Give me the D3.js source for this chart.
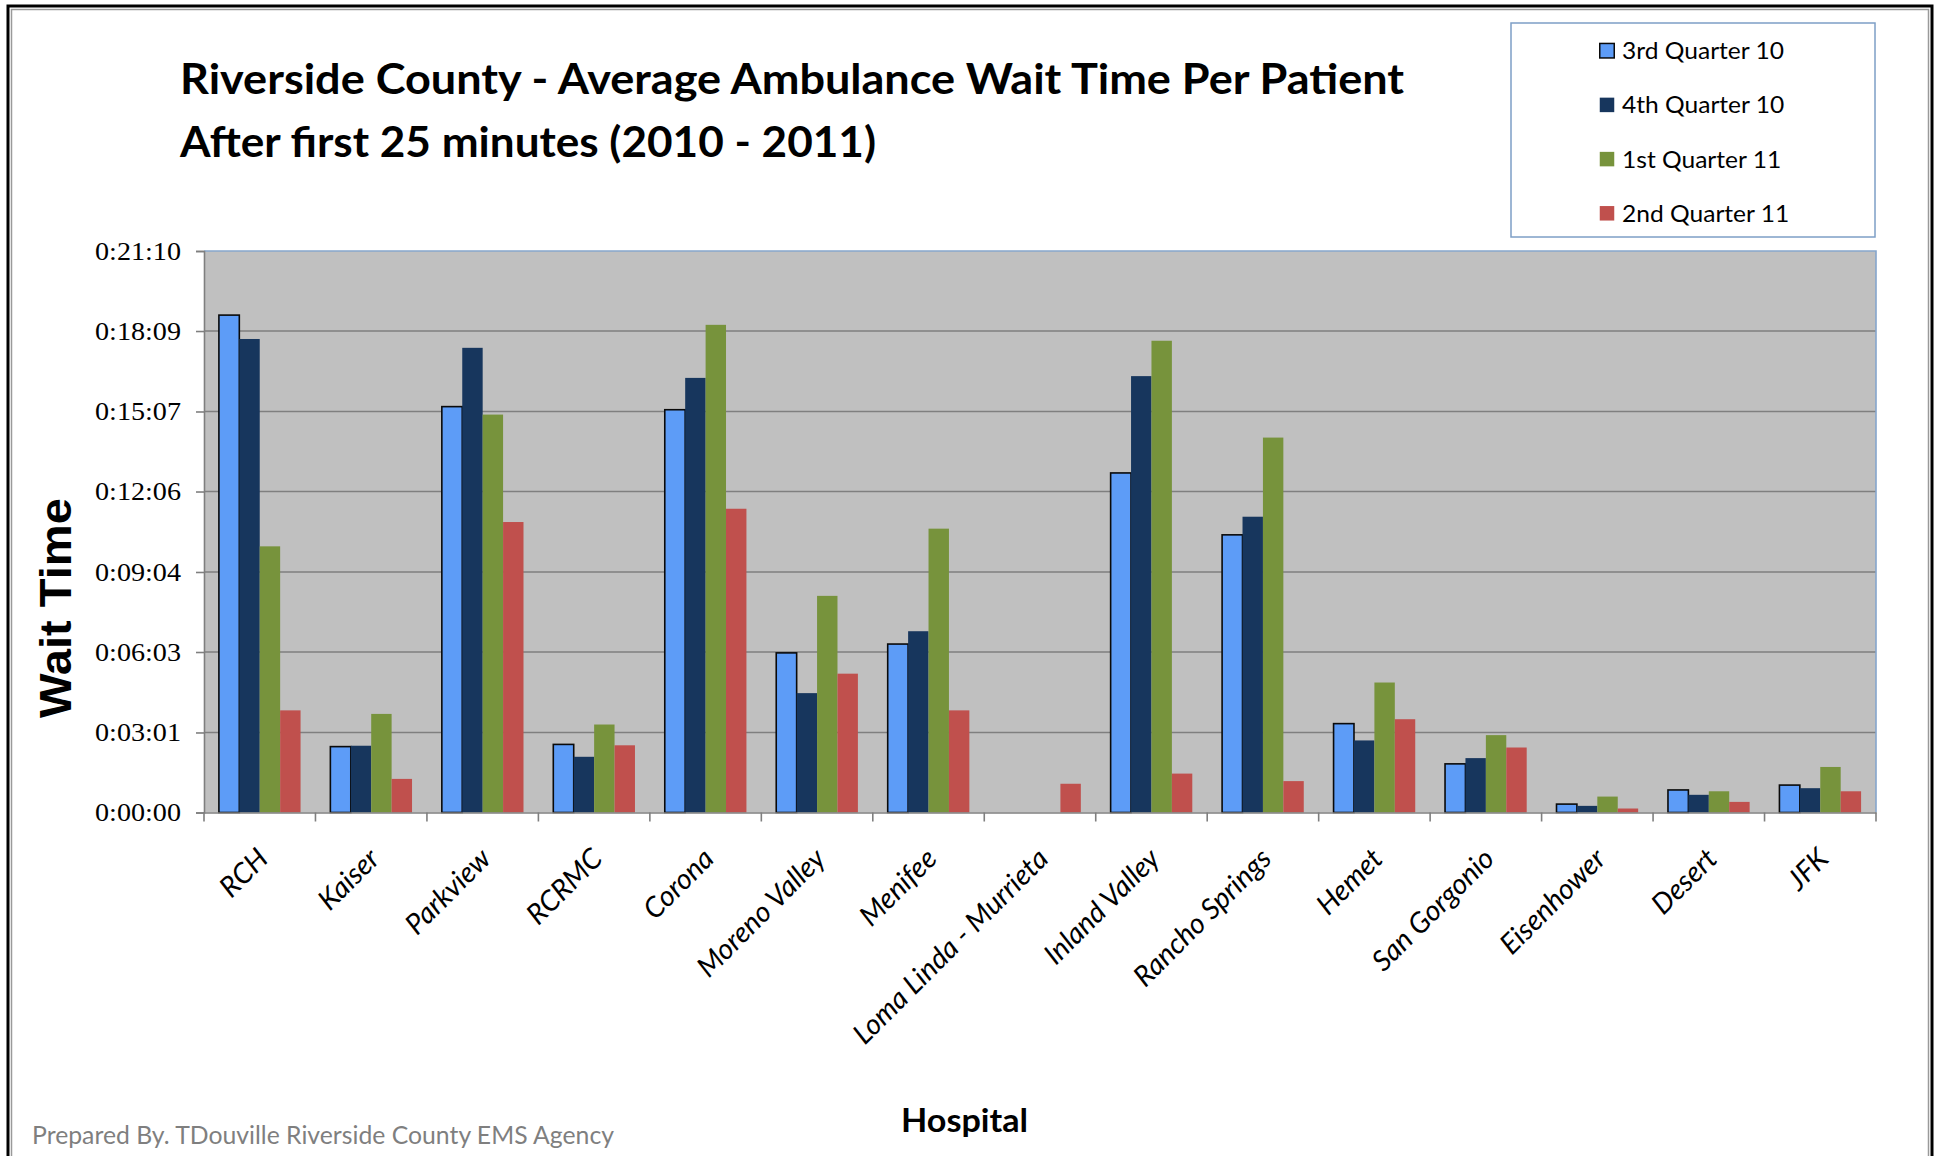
<!DOCTYPE html>
<html><head><meta charset="utf-8">
<script src="https://cdn.jsdelivr.net/npm/d3@7"></script>
<style>
html,body{margin:0;padding:0;background:#fff;}
svg{display:block;}
</style></head><body>
<svg id="chart" width="1940" height="1156"></svg>
<script>
// ---------- data ----------
const categories = ["RCH","Kaiser","Parkview","RCRMC","Corona","Moreno Valley","Menifee",
  "Loma Linda - Murrieta","Inland Valley","Rancho Springs","Hemet","San Gorgonio","Eisenhower","Desert","JFK"];
const seriesNames = ["3rd Quarter 10","4th Quarter 10","1st Quarter 11","2nd Quarter 11"];
// wait time in seconds
const q3_2010 = [1125, 149, 918, 154, 911, 361, 381, 0, 768, 628, 201, 110, 19, 51, 62];
const q4_2010 = [1071, 151, 1051, 126, 983, 270, 410, 0, 987, 669, 163, 123, 15, 40, 55];
const q1_2011 = [602, 223, 900, 199, 1103, 490, 642, 0, 1067, 848, 294, 175, 36, 48, 103];
const q2_2011 = [231, 76, 657, 152, 687, 314, 231, 65, 88, 71, 211, 147, 9, 24, 48];
const yTickLabels = ["0:00:00","0:03:01","0:06:03","0:09:04","0:12:06","0:15:07","0:18:09","0:21:10"];
const seriesColors = ["#5d9cf7","#17365d","#77933c","#c0504d"];

const seriesValues = [q3_2010, q4_2010, q1_2011, q2_2011];
const toSec = s => { const p = s.split(":").map(Number); return p[0]*3600 + p[1]*60 + p[2]; };
const tickSecs = yTickLabels.map(toSec);

// ---------- layout ----------
const W = 1940, H = 1156;
const P = {left: 204, top: 251, right: 1876, bottom: 812.5};
const svg = d3.select("#chart");
const SANS = "Lato, 'Open Sans', sans-serif";

svg.append("rect").attr("width", W).attr("height", H).attr("fill", "#fff");

// outer frame
svg.append("rect").attr("x", 8).attr("y", 6).attr("width", 1924).attr("height", 1300)
  .attr("fill", "none").attr("stroke", "#000").attr("stroke-width", 3);
svg.append("rect").attr("x", 11.5).attr("y", 9.5).attr("width", 1917).attr("height", 1300)
  .attr("fill", "none").attr("stroke", "#9a9a9a").attr("stroke-width", 1.5);

// scales
const x0 = d3.scaleBand().domain(categories).range([P.left, P.right]).paddingInner(0).paddingOuter(0);
const x1 = d3.scaleBand().domain(seriesNames).range([0, x0.bandwidth()]).paddingInner(0).paddingOuter(0.73);
const y = d3.scaleLinear().domain([0, d3.max(tickSecs)]).range([P.bottom, P.top]);

// plot background
svg.append("rect").attr("x", P.left).attr("y", P.top)
  .attr("width", P.right - P.left).attr("height", P.bottom - P.top).attr("fill", "#c0c0c0");

// gridlines
svg.append("g").selectAll("line").data(tickSecs.slice(1, -1)).join("line")
  .attr("x1", P.left).attr("x2", P.right)
  .attr("y1", d => y(d)).attr("y2", d => y(d))
  .attr("stroke", "#7f7f7f").attr("stroke-width", 1.6);

// plot border top/right
svg.append("path")
  .attr("d", `M${P.left},${y(tickSecs[tickSecs.length-1])}H${P.right}V${P.bottom}`)
  .attr("fill", "none").attr("stroke", "#86a6cc").attr("stroke-width", 1.6);

// bars
const gBars = svg.append("g");
seriesNames.forEach((s, si) => {
  gBars.append("g").selectAll("rect").data(seriesValues[si]).join("rect")
    .attr("x", (d, i) => x0(categories[i]) + x1(s))
    .attr("y", d => y(d))
    .attr("width", x1.bandwidth())
    .attr("height", d => y(0) - y(d))
    .attr("fill", seriesColors[si])
    .attr("stroke", si === 0 ? "#0a0a0a" : "none")
    .attr("stroke-width", si === 0 ? 1.6 : 0)
    .style("display", d => d > 0 ? null : "none");
});

// y axis
const yAxis = d3.axisLeft(y).tickValues(tickSecs).tickFormat((d, i) => yTickLabels[i])
  .tickSize(8).tickPadding(15);
const gy = svg.append("g").attr("transform", `translate(${P.left},0)`).call(yAxis);
gy.select(".domain").attr("stroke", "#7f7f7f").attr("stroke-width", 1.6);
gy.selectAll(".tick line").attr("stroke", "#7f7f7f").attr("stroke-width", 1.6);
gy.selectAll(".tick text")
  .attr("font-family", "'Liberation Serif', 'DejaVu Serif', serif")
  .attr("font-size", 26).attr("fill", "#000")
  .attr("textLength", 86).attr("lengthAdjust", "spacingAndGlyphs");

// x axis: baseline with ticks at category boundaries
const xAxis = d3.axisBottom(x0).tickSize(0).tickFormat("");
const gx = svg.append("g").attr("transform", `translate(0,${P.bottom})`).call(xAxis);
gx.select(".domain").attr("stroke", "#7f7f7f").attr("stroke-width", 1.6);
const boundaries = categories.map(c => x0(c)).concat([x0.range()[1]]);
gx.append("g").selectAll("line").data(boundaries).join("line")
  .attr("x1", d => d).attr("x2", d => d).attr("y1", 0).attr("y2", 9)
  .attr("stroke", "#7f7f7f").attr("stroke-width", 1.6);

// category labels
const gLab = svg.append("g");
const labels = gLab.selectAll("text").data(categories).join("text")
  .attr("transform", c => `translate(${x0(c) + x0.bandwidth()/2 + 10},${P.bottom + 48}) rotate(-45)`)
  .attr("text-anchor", "end")
  .attr("font-family", SANS).attr("font-style", "italic")
  .attr("font-size", 24).attr("fill", "#000")
  .text(c => c);
// scale label font so the longest label matches the reference extent
const longest = labels.filter(c => c === "Loma Linda - Murrieta").node();
const k = 262 / longest.getComputedTextLength();
labels.attr("font-size", 24 * k);

// title
const title = svg.append("g").attr("font-family", SANS).attr("font-weight", 700).attr("fill", "#000");
title.append("text").attr("x", 180).attr("y", 94).attr("font-size", 42)
  .attr("textLength", 1224).attr("lengthAdjust", "spacingAndGlyphs")
  .text("Riverside County - Average Ambulance Wait Time Per Patient");
title.append("text").attr("x", 180).attr("y", 157).attr("font-size", 42)
  .attr("textLength", 696).attr("lengthAdjust", "spacingAndGlyphs")
  .text("After first 25 minutes (2010 - 2011)");

// legend
svg.append("rect").attr("x", 1511).attr("y", 23).attr("width", 364).attr("height", 214)
  .attr("fill", "#fff").attr("stroke", "#7e9fc6").attr("stroke-width", 1.5);
const leg = svg.append("g").selectAll("g").data(seriesNames).join("g")
  .attr("transform", (d, i) => `translate(1599,${50.7 + i * 54.2})`);
leg.append("rect").attr("x", 0.75).attr("y", -7.25).attr("width", 14.5).attr("height", 14.5)
  .attr("fill", (d, i) => seriesColors[i])
  .attr("stroke", (d, i) => i === 0 ? "#0a0a0a" : "none").attr("stroke-width", 1.5);
const legText = leg.append("text").attr("x", 23).attr("y", 8.5)
  .attr("font-family", SANS).attr("font-size", 23.5).attr("fill", "#000")
  .text(d => d);
const lk = 162 / legText.nodes()[0].getComputedTextLength();
legText.each(function() {
  const l = this.getComputedTextLength();
  d3.select(this).attr("textLength", l * lk).attr("lengthAdjust", "spacingAndGlyphs");
});

// axis titles
svg.append("text")
  .attr("transform", "translate(71,608) rotate(-90)")
  .attr("text-anchor", "middle")
  .attr("font-family", "'Liberation Sans', Arial, sans-serif").attr("font-weight", 700)
  .attr("font-size", 44).attr("fill", "#000")
  .attr("textLength", 220).attr("lengthAdjust", "spacingAndGlyphs")
  .text("Wait Time");

svg.append("text").attr("x", 964.5).attr("y", 1132).attr("text-anchor", "middle")
  .attr("font-family", SANS).attr("font-weight", 700).attr("font-size", 33).attr("fill", "#000")
  .attr("textLength", 127).attr("lengthAdjust", "spacingAndGlyphs")
  .text("Hospital");

svg.append("text").attr("x", 32).attr("y", 1144)
  .attr("font-family", SANS).attr("font-size", 25).attr("fill", "#7f7f7f")
  .attr("textLength", 582).attr("lengthAdjust", "spacingAndGlyphs")
  .text("Prepared By. TDouville Riverside County EMS Agency");
</script>
</body></html>
